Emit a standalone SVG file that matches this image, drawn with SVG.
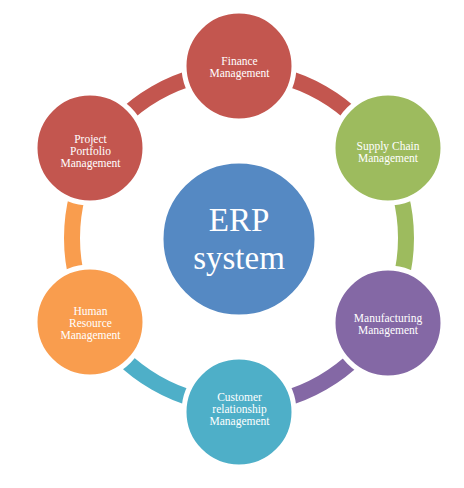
<svg xmlns="http://www.w3.org/2000/svg" width="464" height="488" viewBox="0 0 464 488">
  <style>
    .arc { fill: none; stroke-width: 16; }
    .node { stroke: #ffffff; stroke-width: 5; }
    .lbl { font-family: "Liberation Serif", "Times New Roman", serif; font-size: 11.5px; fill: #ffffff; text-anchor: middle; }
    .big { font-family: "Liberation Serif", "Times New Roman", serif; font-size: 33px; fill: #ffffff; text-anchor: middle; }
  </style>
  <rect width="464" height="488" fill="#ffffff"/>
  <g id="connectors">
    <path class="arc" stroke="#C3564F" d="M 239 71 A 167 167 0 0 1 383.63 154.5"/>
    <path class="arc" stroke="#9DBB5E" d="M 383.63 154.5 A 167 167 0 0 1 383.63 321.5"/>
    <path class="arc" stroke="#8468A5" d="M 383.63 321.5 A 167 167 0 0 1 239 405"/>
    <path class="arc" stroke="#4EAFC8" d="M 239 405 A 167 167 0 0 1 94.37 321.5"/>
    <path class="arc" stroke="#F99D4E" d="M 94.37 321.5 A 167 167 0 0 1 94.37 154.5"/>
    <path class="arc" stroke="#C3564F" d="M 94.37 154.5 A 167 167 0 0 1 239 71"/>
  </g>
  <g id="erp">
    <circle class="node" cx="239" cy="239" r="78" fill="#5589C3"/>
    <text class="big" x="239" y="231">ERP</text>
    <text class="big" x="239" y="269">system</text>
  </g>
  <g id="finance">
    <circle class="node" cx="239" cy="66" r="55" fill="#C3564F"/>
    <text class="lbl" x="239.5" y="64.5">Finance</text>
    <text class="lbl" x="239.5" y="76.5">Management</text>
  </g>
  <g id="supply">
    <circle class="node" cx="388" cy="148" r="55" fill="#9DBB5E"/>
    <text class="lbl" x="388" y="149.5">Supply Chain</text>
    <text class="lbl" x="388" y="161.5">Management</text>
  </g>
  <g id="manufacturing">
    <circle class="node" cx="388" cy="323" r="55" fill="#8468A5"/>
    <text class="lbl" x="388" y="321.5">Manufacturing</text>
    <text class="lbl" x="388" y="333.5">Management</text>
  </g>
  <g id="customer">
    <circle class="node" cx="239" cy="412" r="55" fill="#4EAFC8"/>
    <text class="lbl" x="239.5" y="401">Customer</text>
    <text class="lbl" x="239.5" y="413">relationship</text>
    <text class="lbl" x="239.5" y="425">Management</text>
  </g>
  <g id="hr">
    <circle class="node" cx="90" cy="322" r="55" fill="#F99D4E"/>
    <text class="lbl" x="90.5" y="315">Human</text>
    <text class="lbl" x="90.5" y="327">Resource</text>
    <text class="lbl" x="90.5" y="339">Management</text>
  </g>
  <g id="project">
    <circle class="node" cx="90" cy="148" r="55" fill="#C3564F"/>
    <text class="lbl" x="90.5" y="142.5">Project</text>
    <text class="lbl" x="90.5" y="154.5">Portfolio</text>
    <text class="lbl" x="90.5" y="166.5">Management</text>
  </g>
</svg>
